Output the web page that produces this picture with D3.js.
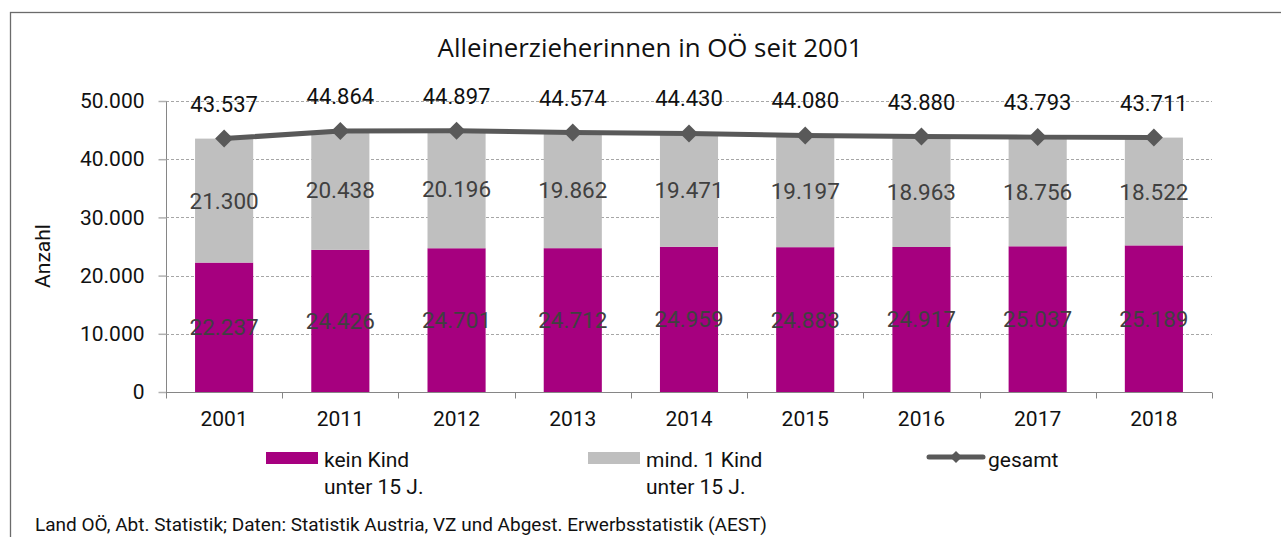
<!DOCTYPE html>
<html>
<head>
<meta charset="utf-8">
<script src="https://cdn.jsdelivr.net/npm/d3@7"></script>
<style>
  html, body { margin: 0; padding: 0; background: #fff; }
  svg { display: block; }
  text { font-family: Roboto, "Liberation Sans", sans-serif; }
</style>
</head>
<body>
<svg id="chart" width="1281" height="537"></svg>
<script>
const years = ["2001", "2011", "2012", "2013", "2014", "2015", "2016", "2017", "2018"];
const keinKind = [22237, 24426, 24701, 24712, 24959, 24883, 24917, 25037, 25189];
const mind1Kind = [21300, 20438, 20196, 19862, 19471, 19197, 18963, 18756, 18522];
const gesamt = [43537, 44864, 44897, 44574, 44430, 44080, 43880, 43793, 43711];
const yTicks = [0, 10000, 20000, 30000, 40000, 50000];
const seriesNames = ["kein Kind\nunter 15 J.", "mind. 1 Kind\nunter 15 J.", "gesamt"];
const titleText = "Alleinerzieherinnen in OÖ seit 2001";
const yAxisTitle = "Anzahl";
const sourceText = "Land OÖ, Abt. Statistik; Daten: Statistik Austria, VZ und Abgest. Erwerbsstatistik (AEST)";

const C_KEIN = "#A6007F", C_MIND = "#BFBFBF", C_LINE = "#595959";
const locale = d3.formatLocale({ decimal: ",", thousands: ".", grouping: [3], currency: ["", "€"] });
const fmt = locale.format(",d");

const svg = d3.select("#chart");
const plot = { left: 166, right: 1212, top: 101, bottom: 392 };

// frame
svg.append("rect").attr("x", 10.5).attr("y", 12.5).attr("width", 1400).attr("height", 700)
  .attr("fill", "none").attr("stroke", "#6b6b6b").attr("stroke-width", 1.3);

const x = d3.scaleBand().domain(years).range([plot.left, plot.right]).paddingInner(0.5).paddingOuter(0.25);
const y = d3.scaleLinear().domain([0, 50000]).range([plot.bottom, plot.top]);

// title
const title = svg.append("text").attr("x", 650).attr("y", 57).attr("text-anchor", "middle")
  .style("font-family", "'Open Sans', sans-serif").style("font-size", "24px").attr("fill", "#111").text(titleText);
const tw = title.node().getComputedTextLength();
title.style("font-size", (24 * 425 / tw) + "px");

// grid
svg.append("g").selectAll("line").data(yTicks.filter(d => d > 0)).join("line")
  .attr("x1", plot.left).attr("x2", plot.right)
  .attr("y1", d => Math.round(y(d)) + 0.5).attr("y2", d => Math.round(y(d)) + 0.5)
  .attr("stroke", "#a6a6a6").attr("stroke-width", 1).attr("stroke-dasharray", "3,2");

// y axis
const yAxis = d3.axisLeft(y).tickValues(yTicks).tickFormat(d => fmt(d)).tickSize(8).tickPadding(14);
const gy = svg.append("g").attr("transform", `translate(${plot.left + 0.5},0)`).call(yAxis);
gy.select(".domain").attr("stroke", "#868686").attr("d", `M0,${plot.top}V${plot.bottom}`);
gy.selectAll(".tick line").attr("stroke", "#b0b0b0").attr("stroke-width", 1.5);
gy.selectAll(".tick text").style("font-size", "21px").attr("fill", "#111").style("font-family", "Roboto, sans-serif");

// y axis title
svg.append("text").attr("transform", `translate(50,256) rotate(-90)`).attr("text-anchor", "middle")
  .style("font-size", "21px").attr("fill", "#111").text(yAxisTitle);

// stacked bars
const rows = years.map((yr, i) => ({ year: yr, kein: keinKind[i], mind: mind1Kind[i], total: gesamt[i] }));
const stack = d3.stack().keys(["kein", "mind"])(rows);
const colors = { kein: C_KEIN, mind: C_MIND };
const barsG = svg.append("g");
stack.forEach(layer => {
  barsG.append("g").attr("fill", colors[layer.key]).selectAll("rect").data(layer).join("rect")
    .attr("x", d => x(d.data.year)).attr("width", x.bandwidth())
    .attr("y", d => y(d[1])).attr("height", d => y(d[0]) - y(d[1]));
});

// x axis
const gx = svg.append("g").attr("transform", `translate(0,${plot.bottom + 0.5})`);
gx.append("line").attr("x1", plot.left).attr("x2", plot.right).attr("stroke", "#868686");
const step = x.step();
const bounds = d3.range(years.length + 1).map(i => plot.left + i * (plot.right - plot.left) / years.length);
gx.selectAll("line.tk").data(bounds).join("line").attr("class", "tk")
  .attr("x1", d => Math.round(d) + 0.5).attr("x2", d => Math.round(d) + 0.5).attr("y1", 0).attr("y2", 6)
  .attr("stroke", "#868686");
gx.selectAll("text").data(years).join("text")
  .attr("x", d => x(d) + x.bandwidth() / 2).attr("y", 33).attr("text-anchor", "middle")
  .style("font-size", "21px").attr("fill", "#111").text(d => d);

// segment labels
stack.forEach(layer => {
  svg.append("g").selectAll("text").data(layer).join("text")
    .attr("x", d => x(d.data.year) + x.bandwidth() / 2)
    .attr("y", d => (y(d[0]) + y(d[1])) / 2 + 8)
    .attr("text-anchor", "middle").style("font-size", "22.5px").attr("fill", "#404040")
    .text(d => fmt(d[1] - d[0]));
});

// total line
const cx = d => x(d.year) + x.bandwidth() / 2;
const line = d3.line().x(cx).y(d => y(d.total));
svg.append("path").datum(rows).attr("d", line).attr("fill", "none")
  .attr("stroke", C_LINE).attr("stroke-width", 5).attr("stroke-linejoin", "round");
const diamond = r => `M0,${-r}L${r},0L0,${r}L${-r},0Z`;
svg.append("g").selectAll("path").data(rows).join("path")
  .attr("transform", d => `translate(${cx(d)},${y(d.total)})`).attr("d", diamond(9)).attr("fill", C_LINE);
svg.append("g").selectAll("text").data(rows).join("text")
  .attr("x", cx).attr("y", d => y(d.total) - 27).attr("text-anchor", "middle")
  .style("font-size", "22px").attr("fill", "#111").text(d => fmt(d.total));

// legend
const lg = svg.append("g");
const legendItems = [
  { type: "rect", color: C_KEIN, x: 266, label: seriesNames[0] },
  { type: "rect", color: C_MIND, x: 588, label: seriesNames[1] },
  { type: "line", color: C_LINE, x: 929, label: seriesNames[2] }
];
legendItems.forEach(it => {
  if (it.type === "rect") {
    lg.append("rect").attr("x", it.x).attr("y", 452).attr("width", 52).attr("height", 12).attr("fill", it.color);
  } else {
    lg.append("line").attr("x1", it.x).attr("x2", it.x + 54).attr("y1", 457).attr("y2", 457)
      .attr("stroke", it.color).attr("stroke-width", 5).attr("stroke-linecap", "round");
    lg.append("path").attr("transform", `translate(${it.x + 27},457)`).attr("d", diamond(6)).attr("fill", it.color);
  }
  const tx = it.type === "rect" ? it.x + 58 : it.x + 59;
  const t = lg.append("text").attr("x", tx).attr("y", 467).style("font-size", "21px").attr("fill", "#111");
  it.label.split("\n").forEach((s, i) => {
    t.append("tspan").attr("x", tx).attr("dy", i === 0 ? 0 : 27).text(s);
  });
});

// source
const src = svg.append("text").attr("x", 35).attr("y", 531).style("font-size", "18px").attr("fill", "#111").text(sourceText);
const sw = src.node().getComputedTextLength();
src.style("font-size", Math.min(19, 18 * 748 / sw) + "px");
</script>
</body>
</html>
